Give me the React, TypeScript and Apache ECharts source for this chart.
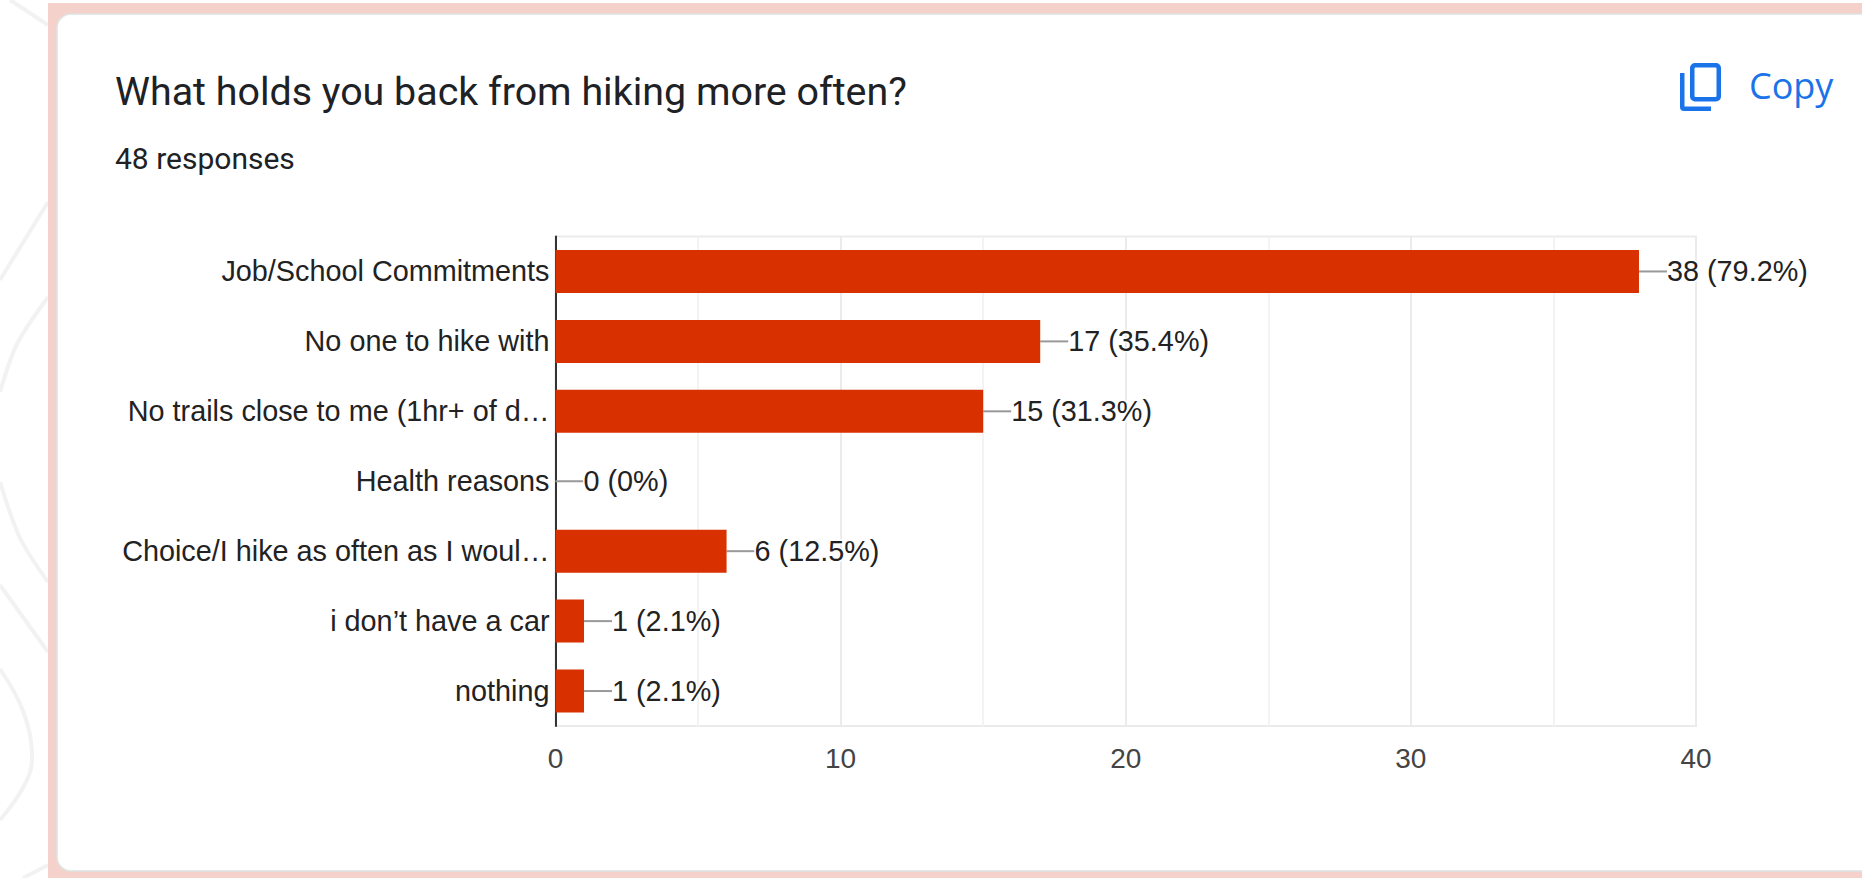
import React, { useEffect, useRef } from "react";
import * as echarts from "echarts";

const categories = [
  "Job/School Commitments",
  "No one to hike with",
  "No trails close to me (1hr+ of d…",
  "Health reasons",
  "Choice/I hike as often as I woul…",
  "i don’t have a car",
  "nothing",
];
const counts = [38, 17, 15, 0, 6, 1, 1];
const shares = ["79.2%", "35.4%", "31.3%", "0%", "12.5%", "2.1%", "2.1%"];
const questionTitle = "What holds you back from hiking more often?";
const responseNote = "48 responses";
const copyText = "Copy";

// Backdrop contour lines behind the panel.
const contours: { points: number[][]; smooth?: number }[] = [
  { points: [[10, 0], [48, 25]] },
  { points: [[0, 280], [48, 202]] },
  { points: [[48, 297], [17, 344], [0, 392]], smooth: 0.3 },
  { points: [[0, 482], [20, 538], [48, 582]], smooth: 0.3 },
  { points: [[0, 585], [48, 652]] },
  { points: [[0, 669], [23, 711], [32, 756], [25, 784], [0, 820]], smooth: 0.4 },
  { points: [[23, 878], [48, 865]] },
];

const copyIconPath =
  "M15 0 H36 a5 5 0 0 1 5 5 V33.5 a5 5 0 0 1 -5 5 H15 a5 5 0 0 1 -5 -5 V5 a5 5 0 0 1 5 -5 Z M15.5 4.5 a1 1 0 0 0 -1 1 V33 a1 1 0 0 0 1 1 H35.5 a1 1 0 0 0 1 -1 V5.5 a1 1 0 0 0 -1 -1 Z M0 10 H4.5 V43.5 H31 V48 H4 a4 4 0 0 1 -4 -4 Z";

echarts.graphic.registerShape("copyIcon", echarts.graphic.extendPath(copyIconPath, {}) as any);

const LABEL_GAP = 28;

export default function App() {
  const ref = useRef<HTMLDivElement>(null);

  useEffect(() => {
    document.body.style.margin = "0";
    const chart = echarts.init(ref.current!, undefined, { renderer: "svg" });
    chart.setOption({
      animation: false,
      backgroundColor: "#ffffff",
      graphic: [
        ...contours.map((c) => ({
          type: "polyline",
          z: -10,
          shape: { points: c.points, smooth: c.smooth ?? 0 },
          style: { stroke: "#f2f2f2", lineWidth: 4, fill: "none" },
        })),
        { type: "rect", z: -9, shape: { x: 48, y: 3, width: 1814, height: 875 }, style: { fill: "#f5d1cc" } },
        {
          type: "rect",
          z: -8,
          shape: { x: 57, y: 14, width: 1830, height: 857, r: 14 },
          style: { fill: "#ffffff", stroke: "#dde4e2", lineWidth: 1.5 },
        },
        {
          type: "text",
          x: 115,
          y: 71.5,
          style: { text: questionTitle, font: "39.4px Roboto", fill: "#202124" },
        },
        {
          type: "text",
          x: 115,
          y: 143,
          style: { text: responseNote, font: "30px Roboto", fill: "#202124" },
        },
        { type: "copyIcon", x: 1680, y: 63, style: { fill: "#1a73e8" } },
        {
          type: "text",
          x: 1749,
          y: 67,
          style: { text: copyText, font: "36px 'Open Sans'", fill: "#1a73e8" },
        },
      ],
      grid: {
        left: 555.5,
        top: 236.5,
        width: 1140.5,
        height: 489.5,
        show: true,
        borderColor: "#ebebeb",
        borderWidth: 2,
      },
      xAxis: {
        type: "value",
        min: 0,
        max: 40,
        interval: 10,
        axisLine: { show: false },
        axisTick: { show: false },
        axisLabel: { fontFamily: "'Liberation Sans'", fontSize: 28, color: "#444444", margin: 18 },
        splitLine: { show: true, lineStyle: { color: "#ebebeb", width: 2 } },
        minorTick: { show: false, splitNumber: 2 },
        minorSplitLine: { show: true, lineStyle: { color: "#f3f3f3", width: 2 } },
      },
      yAxis: {
        type: "category",
        inverse: true,
        data: categories,
        axisLine: { show: true, onZero: false, lineStyle: { color: "#333333", width: 2 } },
        axisTick: { show: false },
        axisLabel: { fontFamily: "'Liberation Sans'", fontSize: 28.8, color: "#222222", margin: 6 },
      },
      series: [
        {
          type: "custom",
          z: 1,
          silent: true,
          data: counts.map((c, i) => [i, c]),
          encode: { x: 1, y: 0 },
          renderItem: (_params: any, api: any) => {
            const start = api.coord([api.value(1), api.value(0)]);
            return {
              type: "line",
              shape: { x1: start[0], y1: start[1], x2: start[0] + LABEL_GAP, y2: start[1] },
              style: { stroke: "#999999", lineWidth: 2 },
            };
          },
        },
        {
          type: "bar",
          z: 2,
          data: counts,
          barWidth: 43,
          itemStyle: { color: "#d93000" },
          label: {
            show: true,
            position: "right",
            distance: LABEL_GAP,
            fontFamily: "'Liberation Sans'",
            fontSize: 28.8,
            color: "#222222",
            textBorderColor: "#ffffff",
            textBorderWidth: 3,
            formatter: (p: any) => `${counts[p.dataIndex]} (${shares[p.dataIndex]})`,
          },
        },
      ],
    });
    return () => chart.dispose();
  }, []);

  return <div ref={ref} style={{ width: 1862, height: 878 }} />;
}
